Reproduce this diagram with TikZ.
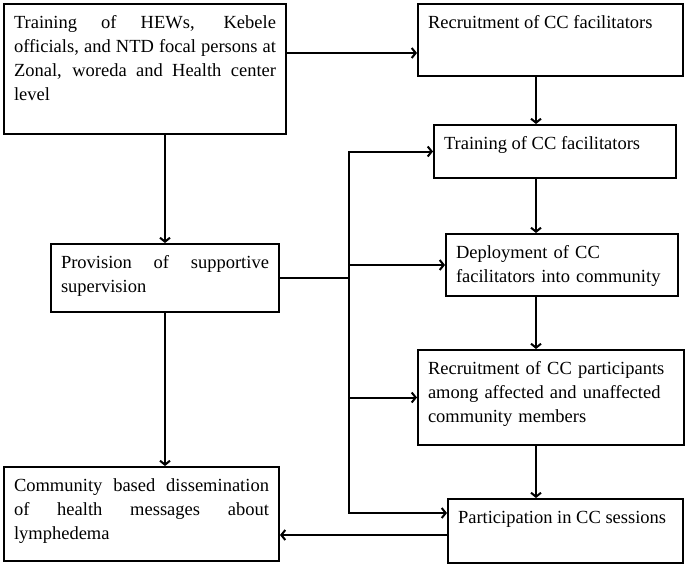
\documentclass[tikz,border=0pt]{standalone}
\usepackage{fontspec}
\setmainfont{Liberation Serif}
\usetikzlibrary{arrows.meta}
\tikzset{
  stagebox/.style={draw, anchor=north west, align=justify,
    inner xsep=10pt, inner ysep=11pt, text height=13pt,
    font=\fontsize{18.5}{24}\selectfont},
}
\begin{document}
\begin{tikzpicture}[x=1pt, y=-1pt, line width=2pt,
    >={Straight Barb[length=4pt,width=10pt]}]
  \useasboundingbox (0,0) rectangle (685,565);
  % left column
  \node[stagebox, text width=262pt, text depth=95pt] (hew) at (3,3)
    {Training of HEWs, Kebele\linebreak officials, and NTD focal persons at\linebreak Zonal, woreda and Health center\linebreak level};
  \node[stagebox, text width=208pt, text depth=33pt] (support) at (50,243)
    {Provision of supportive\linebreak supervision};
  \node[stagebox, text width=255pt, text depth=59pt] (dissem) at (3,466)
    {Community based dissemination\linebreak of health messages about\linebreak lymphedema};
  % right column
  \node[stagebox, text width=245pt, text depth=37pt] (recruit) at (417,3)
    {Recruitment of CC facilitators};
  \node[stagebox, text width=222pt, text depth=18pt] (trainCC) at (433,124)
    {Training of CC facilitators};
  \node[stagebox, align=left, text width=212pt, text depth=27pt] (deploy) at (445,233)
    {Deployment of CC\\ facilitators into community};
  \node[stagebox, align=left, text width=246pt, text depth=60pt] (recruitp) at (417,349)
    {Recruitment of CC participants\\ among affected and unaffected\\ community members};
  \node[stagebox, text width=215pt, text depth=29pt] (session) at (447,498)
    {Participation in CC sessions};
  \coordinate (spine) at (536,0);
  \coordinate (bus) at (349,281);
  \coordinate (sessin) at ([yshift=18pt]session.west);
  \begin{scope}[->]
    \draw ([yshift=16pt]hew.east) to ([yshift=16pt]hew.east -| recruit.west);
    \draw (hew.south -| support.north) to (support.north);
    \draw (support.south) to (support.south |- dissem.north);
    \draw (recruit.south -| spine) to (trainCC.north -| spine);
    \draw (trainCC.south -| spine) to (deploy.north -| spine);
    \draw (deploy.south -| spine) to (recruitp.north -| spine);
    \draw (recruitp.south -| spine) to (session.north -| spine);
    \draw[<->] (trainCC.west) -| (bus) |- (sessin);
    \draw (bus |- deploy.west) to (deploy.west);
    \draw (bus |- recruitp.west) to (recruitp.west);
    \draw ([yshift=-4pt]session.west) to ([yshift=-4pt]session.west -| dissem.east);
  \end{scope}
  \draw (support.east) to (support.east -| bus);
\end{tikzpicture}
\end{document}
